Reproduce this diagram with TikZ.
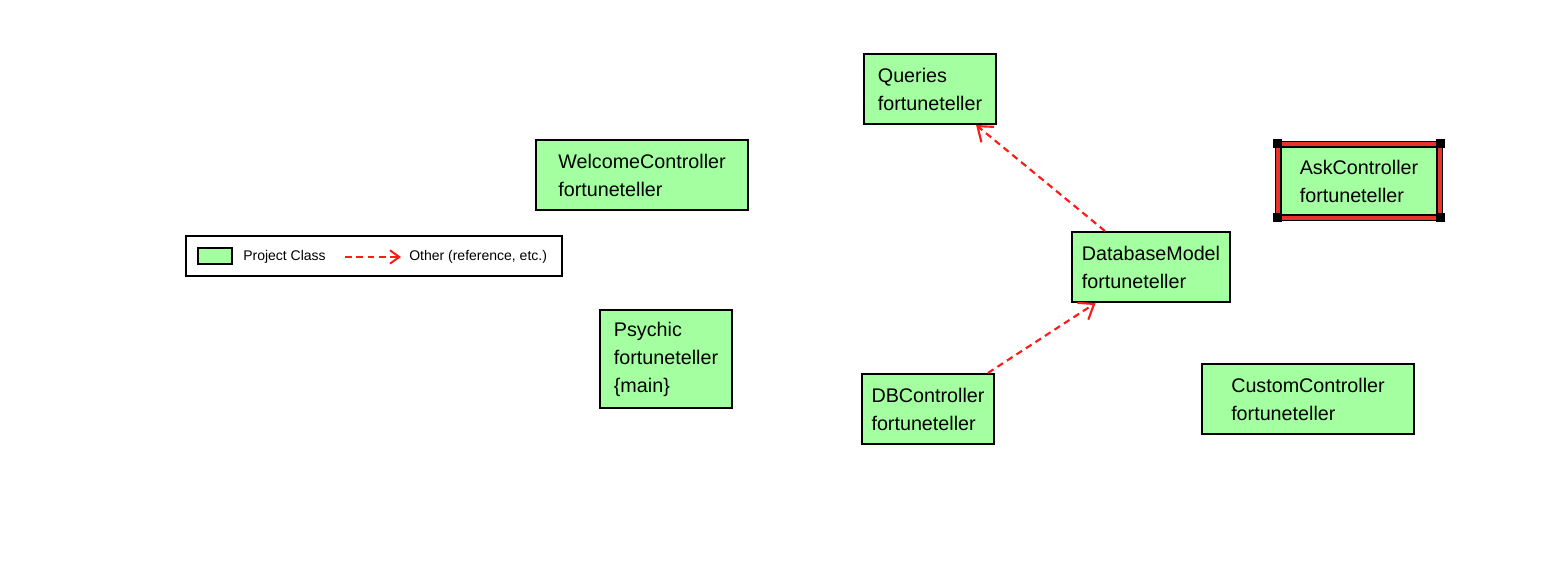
\documentclass[tikz,border=0pt]{standalone}
\usepackage{fontspec}
\setmainfont{Liberation Sans}
\usetikzlibrary{arrows.meta}
\definecolor{clsgreen}{HTML}{A4FFA0}
\definecolor{refred}{HTML}{FF1A1A}
\definecolor{selred}{HTML}{E8322A}
\tikzset{
  cls/.style={draw=black, fill=clsgreen, line width=1.5pt, inner sep=0pt,
    align=left, font=\fontsize{14.8}{21}\selectfont},
  refarrow/.style={draw=refred, line width=1.6pt, dash pattern=on 5pt off 3.5pt,
    -{Straight Barb[length=10pt,width=15pt,line width=1.6pt]}},
  legtext/.style={anchor=west, inner sep=0pt, font=\fontsize{10.5}{12}\selectfont},
  handle/.style={fill=black, draw=none}
}
\begin{document}
\begin{tikzpicture}[x=0.75pt, y=-0.75pt]
\useasboundingbox (0,0) rectangle (1555,581);
% legend
\node[draw=black, line width=1.5pt, minimum width=282pt, minimum height=30pt, inner sep=0pt] (legend) at (374,256) {};
\node[draw=black, fill=clsgreen, line width=1.5pt, minimum width=25.5pt, minimum height=12pt, inner sep=0pt] (legbox) at (215,256) {};
\node[legtext] (legcls) at (243,257) {Project Class};
\coordinate (legA) at (345,257);
\coordinate (legB) at (401,257);
\draw[draw=refred, line width=1.5pt, dash pattern=on 5pt off 3.5pt, -{Straight Barb[length=7pt,width=10pt,line width=1.5pt]}] (legA) -- (legB);
\node[legtext] (legother) at (409,257) {Other (reference, etc.)};
% classes
\node[cls, minimum width=99pt, minimum height=52.5pt] (queries) at (930,89) {Queries\\fortuneteller};
\node[cls, minimum width=159pt, minimum height=52.5pt] (welcome) at (642,175) {WelcomeController\\fortuneteller};
% AskController (selected)
\draw[black, line width=0.75pt] (1275.5,141.5) rectangle (1442.5,220.5);
\draw[selred, line width=3.2pt] (1278.5,144.5) rectangle (1439.5,217.5);
\node[cls, minimum width=117pt, minimum height=51pt] (ask) at (1359,181) {AskController\\fortuneteller};
\fill[handle] (1273,139) rectangle (1282,148);
\fill[handle] (1436,139) rectangle (1445,148);
\fill[handle] (1273,213) rectangle (1282,222);
\fill[handle] (1436,213) rectangle (1445,222);
\node[cls, minimum width=118.5pt, minimum height=52.5pt] (dbm) at (1151,267) {DatabaseModel\\fortuneteller};
\node[cls, minimum width=99pt, minimum height=73.5pt] (psychic) at (666,359) {Psychic\\fortuneteller\\\{main\}};
\node[cls, minimum width=99pt, minimum height=52.5pt] (dbc) at (928,409) {DBController\\fortuneteller};
\node[cls, minimum width=159pt, minimum height=52.5pt] (custom) at (1308,399) {CustomController\\fortuneteller};
% connectors
\draw[refarrow] (dbm.142) -- (queries.322);
\draw[refarrow] (dbc.31) -- (dbm.213);
\end{tikzpicture}
\end{document}
